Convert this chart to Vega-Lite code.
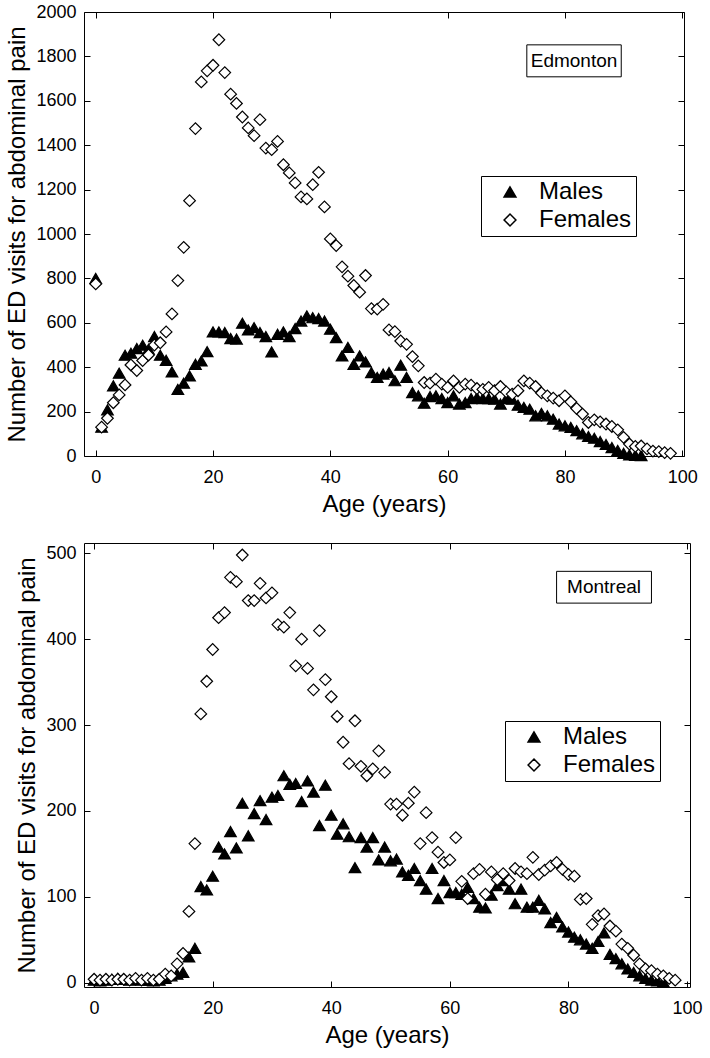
{
  "$schema": "https://vega.github.io/schema/vega-lite/v6.json",
  "padding": {"left": 5, "top": 2, "right": 10, "bottom": 5},
  "spacing": 25,
  "config": {
    "view": {"stroke": "black", "strokeWidth": 1},
    "font": "Liberation Sans",
    "axis": {"grid": false, "domain": false, "tickColor": "black", "tickSize": -6, "labelColor": "black", "labelFontSize": 18, "labelFont": "Liberation Sans", "titleFont": "Liberation Sans", "titleFontSize": 24, "titleFontWeight": "normal", "titleColor": "black", "titlePadding": 6, "format": "d"},
    "axisX": {"labelPadding": 18},
    "axisY": {"labelPadding": 14},
    "legend": {"strokeColor": "black", "padding": 4, "labelFontSize": 24, "labelFont": "Liberation Sans", "labelColor": "black", "symbolSize": 140, "symbolOffset": 13, "labelOffset": 17, "rowPadding": 4}
  },
  "resolve": {"scale": {"shape": "independent", "fill": "independent"}, "legend": {"shape": "independent", "fill": "independent"}},
  "datasets": {
    "edmonton": [
      {"age":0,"visits":800,"sex":"Males"},{"age":1,"visits":130,"sex":"Males"},{"age":2,"visits":208,"sex":"Males"},{"age":3,"visits":316,"sex":"Males"},{"age":4,"visits":373,"sex":"Males"},{"age":5,"visits":454,"sex":"Males"},{"age":6,"visits":463,"sex":"Males"},{"age":7,"visits":484,"sex":"Males"},{"age":8,"visits":499,"sex":"Males"},{"age":9,"visits":481,"sex":"Males"},
      {"age":10,"visits":538,"sex":"Males"},{"age":11,"visits":454,"sex":"Males"},{"age":12,"visits":431,"sex":"Males"},{"age":13,"visits":379,"sex":"Males"},{"age":14,"visits":300,"sex":"Males"},{"age":15,"visits":328,"sex":"Males"},{"age":16,"visits":361,"sex":"Males"},{"age":17,"visits":413,"sex":"Males"},{"age":18,"visits":428,"sex":"Males"},{"age":19,"visits":470,"sex":"Males"},
      {"age":20,"visits":559,"sex":"Males"},{"age":21,"visits":559,"sex":"Males"},{"age":22,"visits":556,"sex":"Males"},{"age":23,"visits":529,"sex":"Males"},{"age":24,"visits":527,"sex":"Males"},{"age":25,"visits":598,"sex":"Males"},{"age":26,"visits":568,"sex":"Males"},{"age":27,"visits":578,"sex":"Males"},{"age":28,"visits":556,"sex":"Males"},{"age":29,"visits":538,"sex":"Males"},
      {"age":30,"visits":469,"sex":"Males"},{"age":31,"visits":548,"sex":"Males"},{"age":32,"visits":559,"sex":"Males"},{"age":33,"visits":538,"sex":"Males"},{"age":34,"visits":574,"sex":"Males"},{"age":35,"visits":608,"sex":"Males"},{"age":36,"visits":631,"sex":"Males"},{"age":37,"visits":623,"sex":"Males"},{"age":38,"visits":619,"sex":"Males"},{"age":39,"visits":608,"sex":"Males"},
      {"age":40,"visits":571,"sex":"Males"},{"age":41,"visits":533,"sex":"Males"},{"age":42,"visits":451,"sex":"Males"},{"age":43,"visits":489,"sex":"Males"},{"age":44,"visits":413,"sex":"Males"},{"age":45,"visits":451,"sex":"Males"},{"age":46,"visits":424,"sex":"Males"},{"age":47,"visits":376,"sex":"Males"},{"age":48,"visits":354,"sex":"Males"},{"age":49,"visits":369,"sex":"Males"},
      {"age":50,"visits":376,"sex":"Males"},{"age":51,"visits":339,"sex":"Males"},{"age":52,"visits":409,"sex":"Males"},{"age":53,"visits":354,"sex":"Males"},{"age":54,"visits":286,"sex":"Males"},{"age":55,"visits":271,"sex":"Males"},{"age":56,"visits":238,"sex":"Males"},{"age":57,"visits":268,"sex":"Males"},{"age":58,"visits":271,"sex":"Males"},{"age":59,"visits":259,"sex":"Males"},
      {"age":60,"visits":241,"sex":"Males"},{"age":61,"visits":271,"sex":"Males"},{"age":62,"visits":234,"sex":"Males"},{"age":63,"visits":241,"sex":"Males"},{"age":64,"visits":259,"sex":"Males"},{"age":65,"visits":263,"sex":"Males"},{"age":66,"visits":259,"sex":"Males"},{"age":67,"visits":259,"sex":"Males"},{"age":68,"visits":256,"sex":"Males"},{"age":69,"visits":234,"sex":"Males"},
      {"age":70,"visits":259,"sex":"Males"},{"age":71,"visits":256,"sex":"Males"},{"age":72,"visits":229,"sex":"Males"},{"age":73,"visits":219,"sex":"Males"},{"age":74,"visits":211,"sex":"Males"},{"age":75,"visits":181,"sex":"Males"},{"age":76,"visits":192,"sex":"Males"},{"age":77,"visits":181,"sex":"Males"},{"age":78,"visits":166,"sex":"Males"},{"age":79,"visits":144,"sex":"Males"},
      {"age":80,"visits":136,"sex":"Males"},{"age":81,"visits":129,"sex":"Males"},{"age":82,"visits":114,"sex":"Males"},{"age":83,"visits":100,"sex":"Males"},{"age":84,"visits":88,"sex":"Males"},{"age":85,"visits":80,"sex":"Males"},{"age":86,"visits":65,"sex":"Males"},{"age":87,"visits":52,"sex":"Males"},{"age":88,"visits":38,"sex":"Males"},{"age":89,"visits":25,"sex":"Males"},
      {"age":90,"visits":12,"sex":"Males"},{"age":91,"visits":5,"sex":"Males"},{"age":92,"visits":3,"sex":"Males"},{"age":93,"visits":2,"sex":"Males"},
      {"age":0,"visits":775,"sex":"Females"},{"age":1,"visits":130,"sex":"Females"},{"age":2,"visits":170,"sex":"Females"},{"age":3,"visits":240,"sex":"Females"},{"age":4,"visits":275,"sex":"Females"},{"age":5,"visits":320,"sex":"Females"},{"age":6,"visits":410,"sex":"Females"},{"age":7,"visits":385,"sex":"Females"},{"age":8,"visits":430,"sex":"Females"},{"age":9,"visits":455,"sex":"Females"},
      {"age":10,"visits":500,"sex":"Females"},{"age":11,"visits":510,"sex":"Females"},{"age":12,"visits":559,"sex":"Females"},{"age":13,"visits":640,"sex":"Females"},{"age":14,"visits":790,"sex":"Females"},{"age":15,"visits":940,"sex":"Females"},{"age":16,"visits":1150,"sex":"Females"},{"age":17,"visits":1475,"sex":"Females"},{"age":18,"visits":1685,"sex":"Females"},{"age":19,"visits":1735,"sex":"Females"},
      {"age":20,"visits":1760,"sex":"Females"},{"age":21,"visits":1875,"sex":"Females"},{"age":22,"visits":1727,"sex":"Females"},{"age":23,"visits":1630,"sex":"Females"},{"age":24,"visits":1588,"sex":"Females"},{"age":25,"visits":1527,"sex":"Females"},{"age":26,"visits":1478,"sex":"Females"},{"age":27,"visits":1443,"sex":"Females"},{"age":28,"visits":1515,"sex":"Females"},{"age":29,"visits":1387,"sex":"Females"},
      {"age":30,"visits":1380,"sex":"Females"},{"age":31,"visits":1417,"sex":"Females"},{"age":32,"visits":1312,"sex":"Females"},{"age":33,"visits":1275,"sex":"Females"},{"age":34,"visits":1230,"sex":"Females"},{"age":35,"visits":1167,"sex":"Females"},{"age":36,"visits":1158,"sex":"Females"},{"age":37,"visits":1222,"sex":"Females"},{"age":38,"visits":1278,"sex":"Females"},{"age":39,"visits":1122,"sex":"Females"},
      {"age":40,"visits":978,"sex":"Females"},{"age":41,"visits":948,"sex":"Females"},{"age":42,"visits":852,"sex":"Females"},{"age":43,"visits":810,"sex":"Females"},{"age":44,"visits":768,"sex":"Females"},{"age":45,"visits":738,"sex":"Females"},{"age":46,"visits":813,"sex":"Females"},{"age":47,"visits":664,"sex":"Females"},{"age":48,"visits":662,"sex":"Females"},{"age":49,"visits":683,"sex":"Females"},
      {"age":50,"visits":568,"sex":"Females"},{"age":51,"visits":560,"sex":"Females"},{"age":52,"visits":518,"sex":"Females"},{"age":53,"visits":503,"sex":"Females"},{"age":54,"visits":448,"sex":"Females"},{"age":55,"visits":406,"sex":"Females"},{"age":56,"visits":331,"sex":"Females"},{"age":57,"visits":328,"sex":"Females"},{"age":58,"visits":346,"sex":"Females"},{"age":59,"visits":324,"sex":"Females"},
      {"age":60,"visits":309,"sex":"Females"},{"age":61,"visits":338,"sex":"Females"},{"age":62,"visits":309,"sex":"Females"},{"age":63,"visits":324,"sex":"Females"},{"age":64,"visits":319,"sex":"Females"},{"age":65,"visits":304,"sex":"Females"},{"age":66,"visits":300,"sex":"Females"},{"age":67,"visits":309,"sex":"Females"},{"age":68,"visits":294,"sex":"Females"},{"age":69,"visits":313,"sex":"Females"},
      {"age":70,"visits":289,"sex":"Females"},{"age":71,"visits":279,"sex":"Females"},{"age":72,"visits":294,"sex":"Females"},{"age":73,"visits":338,"sex":"Females"},{"age":74,"visits":328,"sex":"Females"},{"age":75,"visits":313,"sex":"Females"},{"age":76,"visits":284,"sex":"Females"},{"age":77,"visits":271,"sex":"Females"},{"age":78,"visits":261,"sex":"Females"},{"age":79,"visits":249,"sex":"Females"},
      {"age":80,"visits":271,"sex":"Females"},{"age":81,"visits":244,"sex":"Females"},{"age":82,"visits":214,"sex":"Females"},{"age":83,"visits":189,"sex":"Females"},{"age":84,"visits":151,"sex":"Females"},{"age":85,"visits":163,"sex":"Females"},{"age":86,"visits":154,"sex":"Females"},{"age":87,"visits":144,"sex":"Females"},{"age":88,"visits":133,"sex":"Females"},{"age":89,"visits":118,"sex":"Females"},
      {"age":90,"visits":84,"sex":"Females"},{"age":91,"visits":54,"sex":"Females"},{"age":92,"visits":43,"sex":"Females"},{"age":93,"visits":45,"sex":"Females"},{"age":94,"visits":32,"sex":"Females"},{"age":95,"visits":22,"sex":"Females"},{"age":96,"visits":20,"sex":"Females"},{"age":97,"visits":15,"sex":"Females"},{"age":98,"visits":12,"sex":"Females"}
    ],
    "montreal": [
      {"age":0,"visits":3,"sex":"Males"},{"age":1,"visits":2,"sex":"Males"},{"age":2,"visits":3,"sex":"Males"},{"age":3,"visits":4,"sex":"Males"},{"age":4,"visits":5,"sex":"Males"},{"age":5,"visits":4,"sex":"Males"},{"age":6,"visits":3,"sex":"Males"},{"age":7,"visits":4,"sex":"Males"},{"age":8,"visits":3,"sex":"Males"},{"age":9,"visits":3,"sex":"Males"},
      {"age":10,"visits":2,"sex":"Males"},{"age":11,"visits":3,"sex":"Males"},{"age":12,"visits":5,"sex":"Males"},{"age":13,"visits":8,"sex":"Males"},{"age":14,"visits":10,"sex":"Males"},{"age":15,"visits":12,"sex":"Males"},{"age":16,"visits":30,"sex":"Males"},{"age":17,"visits":40,"sex":"Males"},{"age":18,"visits":112,"sex":"Males"},{"age":19,"visits":108,"sex":"Males"},
      {"age":20,"visits":124,"sex":"Males"},{"age":21,"visits":158,"sex":"Males"},{"age":22,"visits":150,"sex":"Males"},{"age":23,"visits":176,"sex":"Males"},{"age":24,"visits":157,"sex":"Males"},{"age":25,"visits":209,"sex":"Males"},{"age":26,"visits":171,"sex":"Males"},{"age":27,"visits":197,"sex":"Males"},{"age":28,"visits":212,"sex":"Males"},{"age":29,"visits":190,"sex":"Males"},
      {"age":30,"visits":216,"sex":"Males"},{"age":31,"visits":218,"sex":"Males"},{"age":32,"visits":241,"sex":"Males"},{"age":33,"visits":231,"sex":"Males"},{"age":34,"visits":232,"sex":"Males"},{"age":35,"visits":211,"sex":"Males"},{"age":36,"visits":235,"sex":"Males"},{"age":37,"visits":222,"sex":"Males"},{"age":38,"visits":183,"sex":"Males"},{"age":39,"visits":230,"sex":"Males"},
      {"age":40,"visits":195,"sex":"Males"},{"age":41,"visits":173,"sex":"Males"},{"age":42,"visits":185,"sex":"Males"},{"age":43,"visits":170,"sex":"Males"},{"age":44,"visits":134,"sex":"Males"},{"age":45,"visits":169,"sex":"Males"},{"age":46,"visits":158,"sex":"Males"},{"age":47,"visits":169,"sex":"Males"},{"age":48,"visits":143,"sex":"Males"},{"age":49,"visits":158,"sex":"Males"},
      {"age":50,"visits":142,"sex":"Males"},{"age":51,"visits":144,"sex":"Males"},{"age":52,"visits":129,"sex":"Males"},{"age":53,"visits":125,"sex":"Males"},{"age":54,"visits":133,"sex":"Males"},{"age":55,"visits":119,"sex":"Males"},{"age":56,"visits":109,"sex":"Males"},{"age":57,"visits":133,"sex":"Males"},{"age":58,"visits":98,"sex":"Males"},{"age":59,"visits":119,"sex":"Males"},
      {"age":60,"visits":105,"sex":"Males"},{"age":61,"visits":105,"sex":"Males"},{"age":62,"visits":103,"sex":"Males"},{"age":63,"visits":111,"sex":"Males"},{"age":64,"visits":98,"sex":"Males"},{"age":65,"visits":88,"sex":"Males"},{"age":66,"visits":87,"sex":"Males"},{"age":67,"visits":102,"sex":"Males"},{"age":68,"visits":113,"sex":"Males"},{"age":69,"visits":119,"sex":"Males"},
      {"age":70,"visits":109,"sex":"Males"},{"age":71,"visits":92,"sex":"Males"},{"age":72,"visits":109,"sex":"Males"},{"age":73,"visits":88,"sex":"Males"},{"age":74,"visits":88,"sex":"Males"},{"age":75,"visits":96,"sex":"Males"},{"age":76,"visits":86,"sex":"Males"},{"age":77,"visits":70,"sex":"Males"},{"age":78,"visits":76,"sex":"Males"},{"age":79,"visits":65,"sex":"Males"},
      {"age":80,"visits":59,"sex":"Males"},{"age":81,"visits":53,"sex":"Males"},{"age":82,"visits":50,"sex":"Males"},{"age":83,"visits":45,"sex":"Males"},{"age":84,"visits":40,"sex":"Males"},{"age":85,"visits":48,"sex":"Males"},{"age":86,"visits":58,"sex":"Males"},{"age":87,"visits":33,"sex":"Males"},{"age":88,"visits":28,"sex":"Males"},{"age":89,"visits":22,"sex":"Males"},
      {"age":90,"visits":16,"sex":"Males"},{"age":91,"visits":12,"sex":"Males"},{"age":92,"visits":8,"sex":"Males"},{"age":93,"visits":5,"sex":"Males"},{"age":94,"visits":3,"sex":"Males"},{"age":95,"visits":2,"sex":"Males"},{"age":96,"visits":1,"sex":"Males"},
      {"age":0,"visits":4,"sex":"Females"},{"age":1,"visits":3,"sex":"Females"},{"age":2,"visits":4,"sex":"Females"},{"age":3,"visits":3,"sex":"Females"},{"age":4,"visits":4,"sex":"Females"},{"age":5,"visits":4,"sex":"Females"},{"age":6,"visits":3,"sex":"Females"},{"age":7,"visits":5,"sex":"Females"},{"age":8,"visits":3,"sex":"Females"},{"age":9,"visits":5,"sex":"Females"},
      {"age":10,"visits":3,"sex":"Females"},{"age":11,"visits":4,"sex":"Females"},{"age":12,"visits":10,"sex":"Females"},{"age":13,"visits":8,"sex":"Females"},{"age":14,"visits":22,"sex":"Females"},{"age":15,"visits":34,"sex":"Females"},{"age":16,"visits":83,"sex":"Females"},{"age":17,"visits":162,"sex":"Females"},{"age":18,"visits":313,"sex":"Females"},{"age":19,"visits":351,"sex":"Females"},
      {"age":20,"visits":388,"sex":"Females"},{"age":21,"visits":425,"sex":"Females"},{"age":22,"visits":431,"sex":"Females"},{"age":23,"visits":472,"sex":"Females"},{"age":24,"visits":467,"sex":"Females"},{"age":25,"visits":498,"sex":"Females"},{"age":26,"visits":445,"sex":"Females"},{"age":27,"visits":445,"sex":"Females"},{"age":28,"visits":465,"sex":"Females"},{"age":29,"visits":448,"sex":"Females"},
      {"age":30,"visits":454,"sex":"Females"},{"age":31,"visits":417,"sex":"Females"},{"age":32,"visits":414,"sex":"Females"},{"age":33,"visits":431,"sex":"Females"},{"age":34,"visits":369,"sex":"Females"},{"age":35,"visits":400,"sex":"Females"},{"age":36,"visits":366,"sex":"Females"},{"age":37,"visits":341,"sex":"Females"},{"age":38,"visits":410,"sex":"Females"},{"age":39,"visits":353,"sex":"Females"},
      {"age":40,"visits":333,"sex":"Females"},{"age":41,"visits":310,"sex":"Females"},{"age":42,"visits":280,"sex":"Females"},{"age":43,"visits":255,"sex":"Females"},{"age":44,"visits":305,"sex":"Females"},{"age":45,"visits":252,"sex":"Females"},{"age":46,"visits":241,"sex":"Females"},{"age":47,"visits":249,"sex":"Females"},{"age":48,"visits":270,"sex":"Females"},{"age":49,"visits":245,"sex":"Females"},
      {"age":50,"visits":208,"sex":"Females"},{"age":51,"visits":208,"sex":"Females"},{"age":52,"visits":195,"sex":"Females"},{"age":53,"visits":209,"sex":"Females"},{"age":54,"visits":222,"sex":"Females"},{"age":55,"visits":162,"sex":"Females"},{"age":56,"visits":198,"sex":"Females"},{"age":57,"visits":169,"sex":"Females"},{"age":58,"visits":152,"sex":"Females"},{"age":59,"visits":140,"sex":"Females"},
      {"age":60,"visits":143,"sex":"Females"},{"age":61,"visits":169,"sex":"Females"},{"age":62,"visits":118,"sex":"Females"},{"age":63,"visits":98,"sex":"Females"},{"age":64,"visits":127,"sex":"Females"},{"age":65,"visits":132,"sex":"Females"},{"age":66,"visits":103,"sex":"Females"},{"age":67,"visits":129,"sex":"Females"},{"age":68,"visits":120,"sex":"Females"},{"age":69,"visits":127,"sex":"Females"},
      {"age":70,"visits":119,"sex":"Females"},{"age":71,"visits":133,"sex":"Females"},{"age":72,"visits":129,"sex":"Females"},{"age":73,"visits":127,"sex":"Females"},{"age":74,"visits":146,"sex":"Females"},{"age":75,"visits":126,"sex":"Females"},{"age":76,"visits":131,"sex":"Females"},{"age":77,"visits":136,"sex":"Females"},{"age":78,"visits":140,"sex":"Females"},{"age":79,"visits":132,"sex":"Females"},
      {"age":80,"visits":126,"sex":"Females"},{"age":81,"visits":124,"sex":"Females"},{"age":82,"visits":97,"sex":"Females"},{"age":83,"visits":98,"sex":"Females"},{"age":84,"visits":68,"sex":"Females"},{"age":85,"visits":78,"sex":"Females"},{"age":86,"visits":80,"sex":"Females"},{"age":87,"visits":66,"sex":"Females"},{"age":88,"visits":60,"sex":"Females"},{"age":89,"visits":45,"sex":"Females"},
      {"age":90,"visits":40,"sex":"Females"},{"age":91,"visits":32,"sex":"Females"},{"age":92,"visits":22,"sex":"Females"},{"age":93,"visits":16,"sex":"Females"},{"age":94,"visits":14,"sex":"Females"},{"age":95,"visits":10,"sex":"Females"},{"age":96,"visits":8,"sex":"Females"},{"age":97,"visits":5,"sex":"Females"},{"age":98,"visits":3,"sex":"Females"}
    ]
  },
  "vconcat": [
    {
      "width": 600,
      "height": 444,
      "resolve": {"axis": {"x": "independent", "y": "independent"}},
      "layer": [
        {
          "data": {"name": "edmonton"},
          "mark": {"type": "point", "filled": true, "opacity": 1, "size": 135, "stroke": "black", "strokeWidth": 1.2},
          "encoding": {
            "x": {"field": "age", "type": "quantitative", "title": "Age (years)", "scale": {"domain": [-2, 100.3], "nice": false, "zero": false}, "axis": {"orient": "bottom", "values": [0, 20, 40, 60, 80, 100]}},
            "y": {"field": "visits", "type": "quantitative", "title": "Number of ED visits for abdominal pain", "scale": {"domain": [0, 2000], "nice": false}, "axis": {"orient": "left", "values": [0, 200, 400, 600, 800, 1000, 1200, 1400, 1600, 1800, 2000]}},
            "shape": {"field": "sex", "type": "nominal", "scale": {"domain": ["Males", "Females"], "range": ["triangle-up", "diamond"]}, "legend": {"orient": "none", "title": null, "legendX": 397, "legendY": 164, "encode": {"symbols": {"update": {"stroke": {"value": "black"}, "strokeWidth": {"value": 1.2}, "size": {"value": 140}}}}}},
            "fill": {"field": "sex", "type": "nominal", "scale": {"domain": ["Males", "Females"], "range": ["black", "white"]}, "legend": {"orient": "none", "title": null, "legendX": 397, "legendY": 164, "encode": {"symbols": {"update": {"stroke": {"value": "black"}, "strokeWidth": {"value": 1.2}, "size": {"value": 140}}}}}}
          }
        },
        {
          "data": {"name": "edmonton"},
          "mark": {"type": "point", "opacity": 0},
          "encoding": {
            "x": {"field": "age", "type": "quantitative", "axis": {"orient": "top", "labels": false, "title": null, "values": [0, 20, 40, 60, 80, 100]}},
            "y": {"field": "visits", "type": "quantitative", "axis": {"orient": "right", "labels": false, "title": null, "values": [0, 200, 400, 600, 800, 1000, 1200, 1400, 1600, 1800, 2000]}}
          }
        },
        {
          "data": {"values": [{}]},
          "mark": {"type": "rect", "fill": "white", "stroke": "black", "strokeWidth": 1},
          "encoding": {"x": {"datum": 73.5, "type": "quantitative", "axis": null}, "x2": {"datum": 89.6}, "y": {"datum": 1852, "type": "quantitative", "axis": null}, "y2": {"datum": 1708}}
        },
        {
          "data": {"values": [{}]},
          "mark": {"type": "text", "fontSize": 19, "font": "Liberation Sans", "color": "black"},
          "encoding": {"x": {"datum": 81.55, "type": "quantitative", "axis": null}, "y": {"datum": 1780, "type": "quantitative", "axis": null}, "text": {"value": "Edmonton"}}
        }
      ]
    },
    {
      "width": 606,
      "height": 444,
      "resolve": {"axis": {"x": "independent", "y": "independent"}},
      "layer": [
        {
          "data": {"name": "montreal"},
          "mark": {"type": "point", "filled": true, "opacity": 1, "size": 135, "stroke": "black", "strokeWidth": 1.2},
          "encoding": {
            "x": {"field": "age", "type": "quantitative", "title": "Age (years)", "scale": {"domain": [-1.7, 100.5], "nice": false, "zero": false}, "axis": {"orient": "bottom", "values": [0, 20, 40, 60, 80, 100]}},
            "y": {"field": "visits", "type": "quantitative", "title": "Number of ED visits for abdominal pain", "scale": {"domain": [-5, 512], "nice": false, "zero": false}, "axis": {"orient": "left", "values": [0, 100, 200, 300, 400, 500]}},
            "shape": {"field": "sex", "type": "nominal", "scale": {"domain": ["Males", "Females"], "range": ["triangle-up", "diamond"]}, "legend": {"orient": "none", "title": null, "legendX": 421, "legendY": 178, "encode": {"symbols": {"update": {"stroke": {"value": "black"}, "strokeWidth": {"value": 1.2}, "size": {"value": 140}}}}}},
            "fill": {"field": "sex", "type": "nominal", "scale": {"domain": ["Males", "Females"], "range": ["black", "white"]}, "legend": {"orient": "none", "title": null, "legendX": 421, "legendY": 178, "encode": {"symbols": {"update": {"stroke": {"value": "black"}, "strokeWidth": {"value": 1.2}, "size": {"value": 140}}}}}}
          }
        },
        {
          "data": {"name": "montreal"},
          "mark": {"type": "point", "opacity": 0},
          "encoding": {
            "x": {"field": "age", "type": "quantitative", "axis": {"orient": "top", "labels": false, "title": null, "values": [0, 20, 40, 60, 80, 100]}},
            "y": {"field": "visits", "type": "quantitative", "axis": {"orient": "right", "labels": false, "title": null, "values": [0, 100, 200, 300, 400, 500]}}
          }
        },
        {
          "data": {"values": [{}]},
          "mark": {"type": "rect", "fill": "white", "stroke": "black", "strokeWidth": 1},
          "encoding": {"x": {"datum": 78, "type": "quantitative", "axis": null}, "x2": {"datum": 94}, "y": {"datum": 479, "type": "quantitative", "axis": null}, "y2": {"datum": 442}}
        },
        {
          "data": {"values": [{}]},
          "mark": {"type": "text", "fontSize": 19, "font": "Liberation Sans", "color": "black"},
          "encoding": {"x": {"datum": 86, "type": "quantitative", "axis": null}, "y": {"datum": 460.5, "type": "quantitative", "axis": null}, "text": {"value": "Montreal"}}
        }
      ]
    }
  ]
}
